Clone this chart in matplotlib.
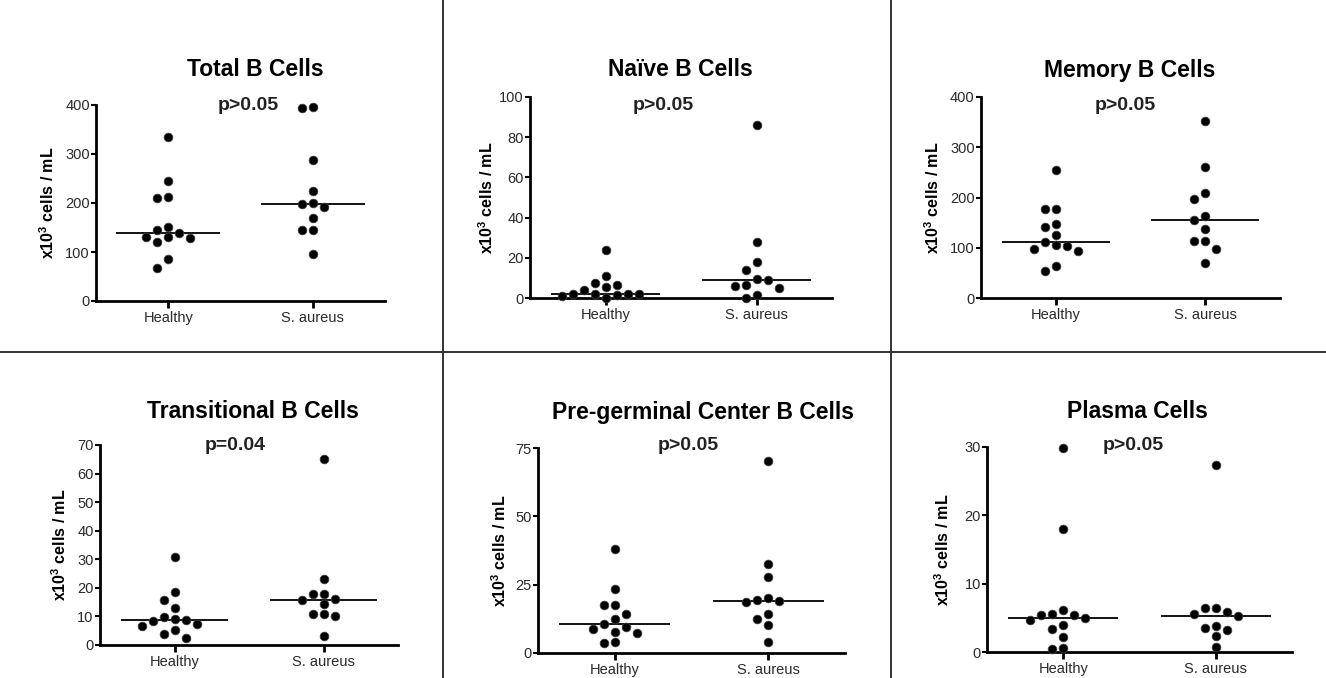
import numpy as np
import matplotlib
matplotlib.use('Agg')
import matplotlib.pyplot as plt
from matplotlib.lines import Line2D

plt.rcParams['font.family'] = ['Liberation Sans', 'DejaVu Sans']
plt.rcParams['mathtext.fontset'] = 'custom'
plt.rcParams['mathtext.bf'] = 'Liberation Sans:bold'
plt.rcParams['mathtext.rm'] = 'Liberation Sans'

# 数据
groups = ['Healthy', 'S. aureus']

titles = ['Total B Cells', 'Naïve B Cells', 'Memory B Cells',
          'Transitional B Cells', 'Pre-germinal Center B Cells', 'Plasma Cells']
p_texts = ['p>0.05', 'p>0.05', 'p>0.05', 'p=0.04', 'p>0.05', 'p>0.05']
y_max = [400, 100, 400, 70, 75, 30]
y_ticks = [[0, 100, 200, 300, 400],
           [0, 20, 40, 60, 80, 100],
           [0, 100, 200, 300, 400],
           [0, 10, 20, 30, 40, 50, 60, 70],
           [0, 25, 50, 75],
           [0, 10, 20, 30]]

total_healthy = [335, 244, 213, 210, 151, 144, 138, 130, 130, 129, 121, 86, 67]
total_aureus = [395, 393, 287, 224, 199, 198, 192, 169, 144, 144, 96]

naive_healthy = [24, 11, 7.5, 6.5, 5.5, 4, 2.0, 2.0, 1.9, 1.8, 1.5, 0.8, 0.2]
naive_aureus = [86.2, 27.7, 17.9, 13.8, 9.5, 9.1, 6.3, 5.8, 5.0, 1.3, 0.0]

memory_healthy = [255, 178, 178, 148, 141, 126, 111, 106, 103, 98, 93, 63, 53]
memory_aureus = [353, 260, 208, 198, 163, 156, 137, 113, 113, 97, 70]

trans_healthy = [30.8, 18.7, 15.6, 12.8, 9.7, 9.2, 8.7, 8.4, 7.2, 6.8, 5.2, 4.0, 2.6]
trans_aureus = [65, 23.2, 18, 18, 16.2, 15.6, 14.4, 10.9, 10.9, 10.3, 3.3]

pregc_healthy = [38, 23.3, 17.5, 17.5, 14.4, 12.4, 10.5, 9.5, 8.9, 7.7, 7.3, 4.0, 3.8]
pregc_aureus = [70.4, 32.6, 27.7, 20, 19.3, 19.1, 18.6, 14.1, 12.6, 10.2, 4]

plasma_healthy = [29.9, 18, 6.1, 5.6, 5.4, 5.4, 5.0, 4.7, 4.0, 3.4, 2.2, 0.6, 0.5]
plasma_aureus = [27.4, 6.5, 6.5, 5.9, 5.5, 5.3, 3.8, 3.5, 3.2, 2.3, 0.7]

panel_data = [(total_healthy, total_aureus), (naive_healthy, naive_aureus),
              (memory_healthy, memory_aureus), (trans_healthy, trans_aureus),
              (pregc_healthy, pregc_aureus), (plasma_healthy, plasma_aureus)]

W, H = 1326, 678
fig = plt.figure(figsize=(W / 100, H / 100), dpi=100)

# 轴的像素位置: 左, 右, 底(0), 顶(max)
boxes = [(96, 385, 301, 105), (530, 832, 298, 97), (981, 1280, 298, 97),
         (100, 398, 645, 445), (538, 845, 653, 448), (987, 1292, 652, 447)]
title_pos = [(255, 70), (680, 70), (1130, 70), (253, 412), (703, 412), (1137, 412)]
p_pos = [(248, 106), (663, 105), (1125, 106), (235, 446), (688, 446), (1133, 446)]
ylabel_x = [48, 487, 933, 60, 500, 943]


def swarm_offsets(vals, ymax, h_px, w_px, step_px=11, d_px=10):
    # 简单的蜂群布局, 避免点重叠
    slots = [0, -1, 1, -2, 2, -3, 3, -4, 4, -5, 5]
    placed = []
    offs = []
    for v in vals:
        ypx = v * h_px / ymax
        for k in slots:
            if all(not (s == k and abs(py - ypx) < d_px) for s, py in placed):
                placed.append((k, ypx))
                offs.append(k * step_px / (w_px / 2.0))
                break
    return np.array(offs)


for i in range(6):
    l, r, b, t = boxes[i]
    ax = fig.add_axes([l / W, 1 - b / H, (r - l) / W, (b - t) / H])
    for j, vals in enumerate(panel_data[i]):
        vals = np.array(vals, dtype=float)
        offs = swarm_offsets(vals, y_max[i], b - t, r - l)
        pos = j + 1
        ax.scatter(pos + offs, vals, s=40, color='black', edgecolors='#444',
                   linewidths=0.5, zorder=3, clip_on=False)
        med = np.median(vals)
        ax.hlines(med, pos - 0.36, pos + 0.36, color='black', lw=1.3, zorder=2)
    ax.set_xlim(0.5, 2.5)
    ax.set_ylim(0, y_max[i])
    ax.set_yticks(y_ticks[i])
    ax.set_xticks([1, 2])
    ax.set_xticklabels(groups)
    for side in ['top', 'right']:
        ax.spines[side].set_visible(False)
    for side in ['left', 'bottom']:
        ax.spines[side].set_linewidth(2.0)
    ax.tick_params(axis='y', length=3.5, width=1.5, labelsize=10.5,
                   labelcolor='#2a2a2a', pad=1)
    ax.tick_params(axis='x', length=5, width=2, labelsize=10.5,
                   labelcolor='#2a2a2a', pad=2)
    ax.set_facecolor('none')

    tx, ty = title_pos[i]
    fig.text(tx / W, 1 - ty / H, titles[i], ha='center', va='center',
             fontsize=16.5, fontweight='bold')
    px, py = p_pos[i]
    fig.text(px / W, 1 - py / H, p_texts[i], ha='center', va='center',
             fontsize=14, fontweight='bold', color='#222')
    fig.text(ylabel_x[i] / W, 1 - ((b + t) / 2) / H,
             r'x10$^{\mathbf{3}}$ cells / mL',
             rotation=90, ha='center', va='center', fontsize=11.5,
             fontweight='bold')

# 分隔线
line_kw = dict(transform=fig.transFigure, color='#333', lw=1.4)
fig.add_artist(Line2D([443 / W, 443 / W], [0, 1], **line_kw))
fig.add_artist(Line2D([891 / W, 891 / W], [0, 1], **line_kw))
fig.add_artist(Line2D([0, 1], [1 - 352 / H, 1 - 352 / H], **line_kw))

fig.savefig('out.png', dpi=100, facecolor='white')
